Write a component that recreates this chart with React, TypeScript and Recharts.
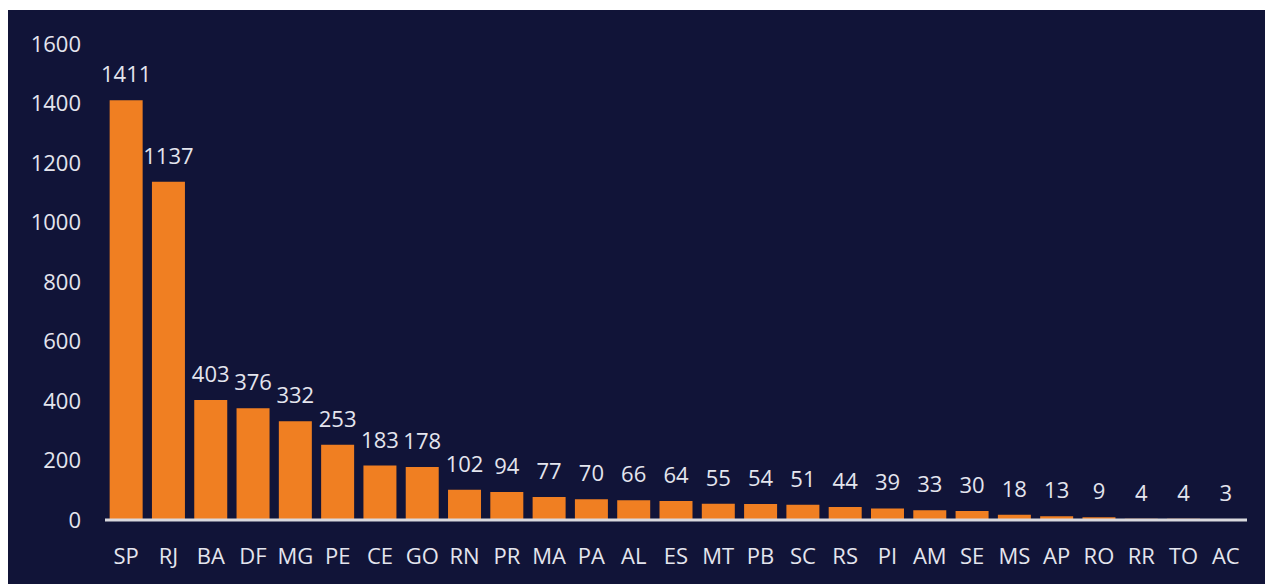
import React from 'react';
import { BarChart, Bar, XAxis, YAxis, LabelList } from 'recharts';

const states = ['SP','RJ','BA','DF','MG','PE','CE','GO','RN','PR','MA','PA','AL','ES','MT','PB','SC','RS','PI','AM','SE','MS','AP','RO','RR','TO','AC'];
const counts = [1411,1137,403,376,332,253,183,178,102,94,77,70,66,64,55,54,51,44,39,33,30,18,13,9,4,4,3];
const yTicks = [0,200,400,600,800,1000,1200,1400,1600];

const data = states.map((s, i) => ({ state: s, value: counts[i] }));

const BG = '#111438';
const BAR = '#F07F22';
const TXT = '#E4E5EE';
const FONT = '"Open Sans", sans-serif';

export default function App() {
  return (
    <div style={{ position: 'absolute', left: 8, top: 10, width: 1257, height: 574, background: BG }}>
      <BarChart
        width={1257}
        height={574}
        data={data}
        margin={{ top: 34, right: 18, bottom: 24, left: 0 }}
        barCategoryGap="11%"
        style={{ fontFamily: FONT }}
      >
        <XAxis
          dataKey="state"
          interval={0}
          height={40}
          tickLine={false}
          tickSize={0}
          tickMargin={28}
          axisLine={{ stroke: '#D9D9DE', strokeWidth: 3 }}
          tick={{ fill: TXT, fontSize: 22, fontFamily: FONT }}
        />
        <YAxis
          width={97}
          domain={[0, 1600]}
          ticks={yTicks}
          interval={0}
          axisLine={false}
          tickLine={false}
          tickSize={0}
          tickMargin={24}
          tick={{ fill: TXT, fontSize: 22, fontFamily: FONT }}
        />
        <Bar dataKey="value" fill={BAR} isAnimationActive={false}>
          <LabelList dataKey="value" position="top" offset={18} fill={TXT} fontSize={22} fontFamily={FONT} />
        </Bar>
      </BarChart>
    </div>
  );
}
